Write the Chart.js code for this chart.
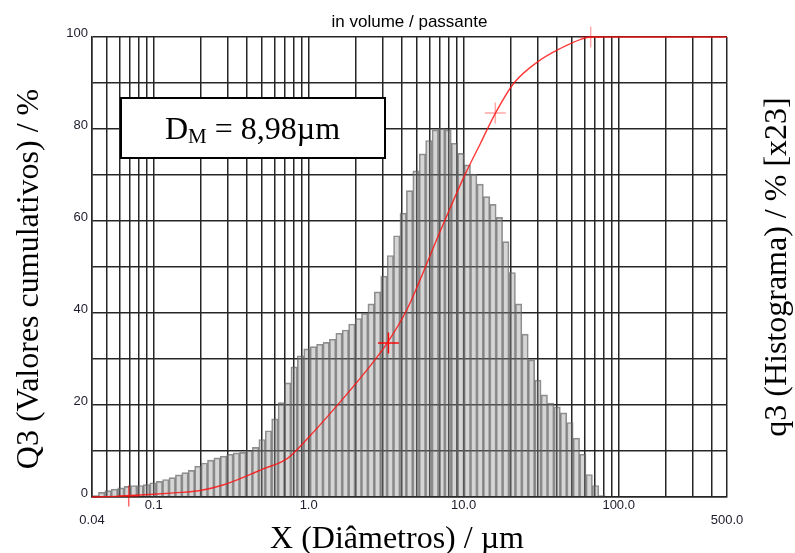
<!DOCTYPE html>
<html>
<head>
<meta charset="utf-8">
<script src="https://cdn.jsdelivr.net/npm/chart.js@4.4.1/dist/chart.umd.min.js"></script>
<style>
  html, body { margin: 0; padding: 0; background: #fff; }
  #wrap { width: 795px; height: 553px; position: relative; }
</style>
</head>
<body>
<div id="wrap"><canvas id="chart"></canvas></div>
<script>
// size classes: first lower edge 0.04 µm, each class is 1.1x the previous one
const BIN_START = 0.04;
const BIN_RATIO = 1.1;

// q3 histogram (display scale x23), one value per class, left to right
const histogram = [
  0.3, 1.0, 1.4, 1.7, 2.0, 2.3, 2.5, 2.5, 2.7, 3.1,
  3.4, 3.8, 4.2, 4.8, 5.3, 5.8, 6.7, 7.4, 8.0, 8.5,
  8.9, 9.3, 9.6, 9.7, 10.1, 10.8, 12.5, 14.4, 17.0, 20.5,
  24.8, 28.3, 30.7, 32.2, 32.7, 33.2, 33.6, 34.3, 35.6, 36.3,
  37.6, 38.8, 39.9, 42.0, 44.6, 48.0, 52.5, 56.8, 61.7, 66.6,
  70.9, 74.6, 77.5, 79.8, 80.1, 79.8, 76.9, 74.7, 72.2, 70.2,
  68.0, 65.3, 63.6, 60.8, 55.5, 48.8, 42.0, 35.4, 29.8, 25.4,
  22.2, 20.4, 19.6, 18.3, 16.2, 12.8, 9.3, 4.9, 2.5, 0.3
];

// Q3 cumulative curve (red line)
const cumX = [0.04, 0.06, 0.1, 0.135, 0.2, 0.28, 0.42, 0.5, 0.73, 1.0, 1.5, 2.4, 3.2, 4.3, 7.1, 10.3, 12.8, 16.0, 21, 30, 42, 57, 66, 500];
const cumY = [0, 0.2, 0.6, 0.9, 1.4, 2.6, 4.9, 6.0, 8.4, 13.0, 19.6, 27.8, 33.4, 40.7, 58.0, 70.4, 76.8, 83.4, 89.9, 94.6, 97.5, 99.5, 100, 100];

// marked points on the curve
const markX = [0.069, 3.27, 16.0, 66];
const markY = [0.2, 33.5, 83.5, 100];
const markColors = ['rgba(255,0,0,0.6)', 'rgba(255,0,0,0.95)', 'rgba(255,0,0,0.35)', 'rgba(255,0,0,0.35)'];

// x grid (log) and the labelled ones
const xTicks = [0.04, 0.05, 0.06, 0.07, 0.08, 0.09,
  0.1, 0.2, 0.3, 0.4, 0.5, 0.6, 0.7, 0.8, 0.9,
  1, 2, 3, 4, 5, 6, 7, 8, 9,
  10, 20, 30, 40, 50, 60, 70, 80, 90,
  100, 200, 300, 400, 500];
const xLabels = { 0.04: ['', '0.04'], 0.1: '0.1', 1: '1.0', 10: '10.0', 100: '100.0', 500: ['', '500.0'] };

const GRID = '#262626';
const TICK_FONT = { family: '"Liberation Sans", Arial, sans-serif', size: 13 };
const SERIF = '"Liberation Serif", "Times New Roman", serif';

const bins = histogram.map((v, i) => ({ x: BIN_START * Math.pow(BIN_RATIO, i + 0.5), y: v }));

const annotate = {
  id: 'annotate',
  afterDraw(chart) {
    const { ctx, chartArea: a } = chart;
    ctx.save();
    ctx.fillStyle = '#000';

    // top caption
    ctx.font = '17px "Liberation Sans", Arial, sans-serif';
    ctx.textAlign = 'center';
    ctx.textBaseline = 'alphabetic';
    ctx.fillText('in volume / passante', (a.left + a.right) / 2, 27);

    // D_M box
    const bx = a.left + 29, by = a.top + 61;
    ctx.fillStyle = '#fff';
    ctx.fillRect(bx, by, 264, 60);
    ctx.lineWidth = 2;
    ctx.strokeStyle = '#000';
    ctx.strokeRect(bx, by, 264, 60);
    ctx.fillStyle = '#000';
    ctx.textAlign = 'left';
    let tx = bx + 44;
    ctx.font = '32px ' + SERIF;
    ctx.fillText('D', tx, by + 41);
    tx += ctx.measureText('D').width;
    ctx.font = '21px ' + SERIF;
    ctx.fillText('M', tx, by + 45);
    tx += ctx.measureText('M').width;
    ctx.font = '32px ' + SERIF;
    ctx.fillText(' = 8,98µm', tx, by + 41);

    // axis titles
    ctx.font = '32px ' + SERIF;
    ctx.textAlign = 'center';
    ctx.fillText('X (Diâmetros) / µm', 397, 548);

    ctx.textBaseline = 'middle';
    ctx.save();
    ctx.translate(30, 279);
    ctx.rotate(-Math.PI / 2);
    ctx.fillText('Q3 (Valores cumulativos) / %', 0, 0);
    ctx.restore();

    ctx.save();
    ctx.translate(778, 267);
    ctx.rotate(-Math.PI / 2);
    ctx.fillText('q3 (Histograma) / % [x23]', 0, 0);
    ctx.restore();

    ctx.restore();
  }
};

new Chart(document.getElementById('chart'), {
  type: 'bar',
  data: {
    datasets: [
      {
        type: 'line',
        label: 'Q3',
        data: cumX.map((x, i) => ({ x, y: cumY[i] })),
        borderColor: 'rgba(255,20,20,0.85)',
        borderWidth: 1.4,
        pointRadius: 0,
        cubicInterpolationMode: 'monotone',
        clip: false,
        order: 0
      },
      {
        type: 'line',
        label: 'marks',
        data: markX.map((x, i) => ({ x, y: markY[i] })),
        showLine: false,
        pointStyle: 'cross',
        pointRadius: 10.5,
        pointBorderWidth: 1.5,
        pointBorderColor: markColors,
        clip: false,
        order: 0
      },
      {
        label: 'q3',
        data: bins,
        backgroundColor: 'rgba(140,140,140,0.37)',
        borderColor: 'rgba(95,95,95,0.7)',
        borderWidth: 1,
        barPercentage: 1,
        categoryPercentage: 1,
        order: 2
      }
    ]
  },
  options: {
    responsive: true,
    maintainAspectRatio: false,
    animation: false,
    events: [],
    layout: { padding: { top: 37, right: 68, left: 0, bottom: 0 } },
    plugins: {
      legend: { display: false },
      tooltip: { enabled: false }
    },
    scales: {
      x: {
        type: 'logarithmic',
        min: 0.04,
        max: 500,
        offset: false,
        grid: { color: GRID, lineWidth: 1.5, drawTicks: false, offset: false },
        border: { color: GRID, width: 1.5 },
        afterBuildTicks: (scale) => { scale.ticks = xTicks.map(v => ({ value: v })); },
        afterFit: (scale) => { scale.height = 56; },
        ticks: {
          autoSkip: false,
          maxRotation: 0,
          minRotation: 0,
          padding: 1,
          color: '#1c1c2c',
          font: { ...TICK_FONT, lineHeight: 1.15 },
          callback: (value) => xLabels[value] ?? ''
        }
      },
      y: {
        min: 0,
        max: 100,
        grid: { color: GRID, lineWidth: 1.5, drawTicks: false },
        border: { color: GRID, width: 1.5 },
        afterFit: (scale) => { scale.width = 92; },
        ticks: {
          stepSize: 10,
          padding: 4,
          labelOffset: -4,
          color: '#1c1c2c',
          font: TICK_FONT,
          callback: (value) => (value % 20 === 0 ? value : '')
        }
      }
    }
  },
  plugins: [annotate]
});
</script>
</body>
</html>
